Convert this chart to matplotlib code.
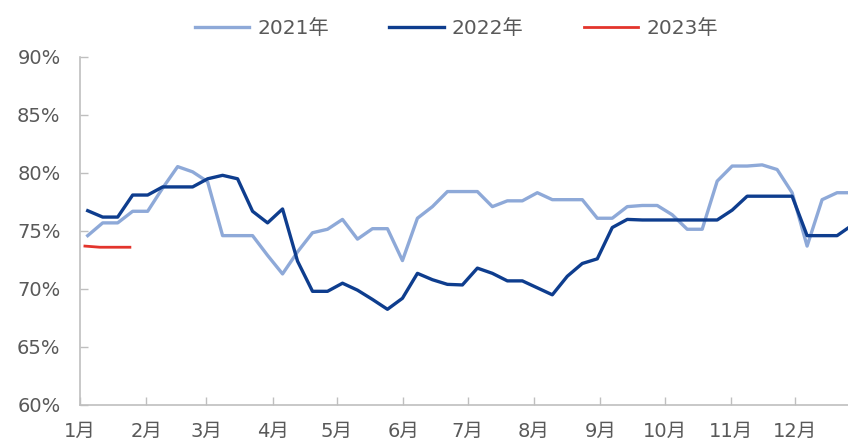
import numpy as np
import matplotlib.pyplot as plt
import matplotlib

# digits in DejaVu (wide like the original), CJK falls back to Noto
plt.rcParams['font.family'] = ['DejaVu Sans', 'Noto Sans CJK SC']

# weekly utilisation rate (%), one point per week
rate_2021 = [74.6, 75.7, 75.7, 76.7, 76.7, 78.7, 80.55, 80.1, 79.25, 74.6,
             74.6, 74.6, 72.9, 71.3, 73.2, 74.85, 75.15, 76.0, 74.3, 75.2,
             75.2, 72.45, 76.1, 77.1, 78.4, 78.4, 78.4, 77.1, 77.6, 77.6,
             78.3, 77.7, 77.7, 77.7, 76.1, 76.1, 77.1, 77.2, 77.2, 76.4,
             75.15, 75.15, 79.3, 80.6, 80.6, 80.7, 80.3, 78.3, 73.7, 77.7,
             78.3, 78.3]
rate_2022 = [76.75, 76.2, 76.2, 78.1, 78.1, 78.8, 78.8, 78.8, 79.5, 79.8,
             79.5, 76.7, 75.7, 76.9, 72.4, 69.8, 69.8, 70.5, 69.9, 69.1,
             68.25, 69.2, 71.35, 70.8, 70.4, 70.35, 71.8, 71.35, 70.7, 70.7,
             70.1, 69.5, 71.1, 72.2, 72.6, 75.3, 76.0, 75.95, 75.95, 75.95,
             75.95, 75.95, 75.95, 76.8, 78.0, 78.0, 78.0, 78.0, 74.6, 74.6,
             74.6, 75.5]
rate_2023 = [73.7, 73.6, 73.6, 73.6]

month_labels = ['1月', '2月', '3月', '4月', '5月', '6月', '7月', '8月',
                '9月', '10月', '11月', '12月']
month_start_day = [0, 31, 59, 90, 120, 151, 181, 212, 243, 273, 304, 334]

# day of year of each weekly point
day_2021 = 3.6 + 7 * np.arange(len(rate_2021))
day_2022 = 3.6 + 7 * np.arange(len(rate_2022))
day_2023 = 2.3 + 7 * np.arange(len(rate_2023))

fig = plt.figure(figsize=(8.48, 4.46), dpi=100)
ax = fig.add_axes([80 / 848, 41 / 446, 1 - 80 / 848, 348 / 446])

ax.plot(day_2021, rate_2021, color='#8EA9D8', linewidth=2.4, label='2021年', solid_joinstyle='round')
ax.plot(day_2022, rate_2022, color='#0E3D8E', linewidth=2.4, label='2022年', solid_joinstyle='round')
ax.plot(day_2023, rate_2023, color='#E3342C', linewidth=2.0, label='2023年')

ax.set_xlim(0, 358.7)
ax.set_ylim(60, 90)
ax.set_yticks(range(60, 91, 5))
ax.set_yticklabels([f'{v}%' for v in range(60, 91, 5)])
ax.set_xticks(month_start_day)
ax.set_xticklabels(month_labels)

for s in ['top', 'right']:
    ax.spines[s].set_visible(False)
for s in ['left', 'bottom']:
    ax.spines[s].set_color('#BFBFBF')
    ax.spines[s].set_linewidth(1.2)

ax.tick_params(axis='both', direction='in', length=6, width=1, color='#BFBFBF',
               labelcolor='#595959', labelsize=14)
ax.tick_params(axis='y', pad=14)
ax.tick_params(axis='x', pad=12)

fig.legend(loc='center', bbox_to_anchor=(0.538, 0.937), ncol=3, frameon=False,
           fontsize=14.5, handlelength=2.7, handletextpad=0.4, columnspacing=3.0,
           labelcolor='#595959')

fig.savefig('out.png', dpi=100)
